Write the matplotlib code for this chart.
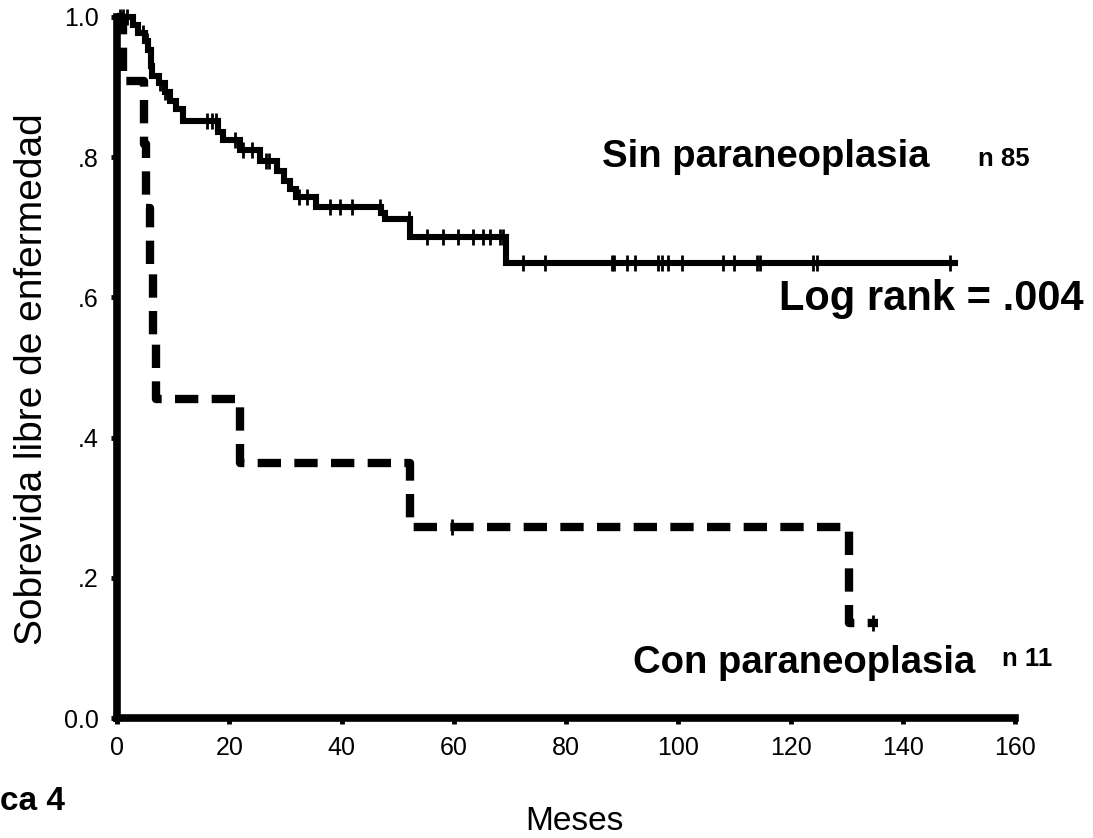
import matplotlib

matplotlib.use("Agg")

import matplotlib.pyplot as plt
import numpy as np

# Sin paraneoplasia (n 85): step times and survival after each step
sin_t = [0, 2.9, 3.7, 5.0, 5.5, 6.0, 6.3, 7.5, 8.5, 9.5, 10.5, 11.8, 18.0, 18.9,
         22.0, 25.5, 28.5, 29.8, 30.8, 31.8, 35.5, 47.0, 47.8, 52.2, 69.2]
sin_s = [1.0, 0.988, 0.977, 0.965, 0.953, 0.93, 0.915, 0.905, 0.893, 0.880, 0.868,
         0.852, 0.836, 0.825, 0.81, 0.795, 0.78, 0.766, 0.755, 0.743, 0.729, 0.72,
         0.712, 0.686, 0.649]
sin_end = 149.2
sin_cens = [0.5, 1.1, 1.8, 4.6, 5.3, 7.7, 8.6, 16.0, 17.0, 17.6, 21.0, 22.5, 24.0,
            26.5, 27.0, 32.5, 33.8, 38.0, 39.7, 41.9, 46.8, 52.0, 55.3, 58.1, 60.8,
            63.4, 65.1, 66.5, 68.3, 68.8, 72.4, 76.3, 88.2, 88.5, 90.9, 92.3, 96.3,
            97.1, 98.2, 100.7, 108.0, 109.8, 114.0, 114.6, 123.9, 124.6, 148.3]

# Con paraneoplasia (n 11)
con_t = [0, 1.0, 4.8, 5.2, 5.8, 6.4, 7.0, 21.9, 52.2, 130.3]
con_s = [1.0, 0.909, 0.818, 0.727, 0.636, 0.545, 0.455, 0.364, 0.273, 0.136]
con_end = 135.5
con_cens = [59.7, 134.6]

x_ticks = [0, 20, 40, 60, 80, 100, 120, 140, 160]
y_ticks = [0.0, 0.2, 0.4, 0.6, 0.8, 1.0]
y_labels = ["0.0", ".2", ".4", ".6", ".8", "1.0"]


def surv_at(times, surv, t):
    idx = np.searchsorted(times, t, side="right") - 1
    return np.asarray(surv)[idx]


plt.rcParams["font.family"] = ["Liberation Sans", "DejaVu Sans"]

fig = plt.figure(figsize=(10.93, 8.38), dpi=100)
ax = fig.add_axes([0.107, 0.143, 0.822, 0.837])

# solid curve
xs = sin_t + [sin_end]
ys = sin_s + [sin_s[-1]]
ax.step(xs, ys, where="post", color="black", lw=4.4, clip_on=False,
        solid_joinstyle="miter")
ax.plot(sin_cens, surv_at(sin_t, sin_s, sin_cens), ls="none", marker="|",
        ms=11, mew=2, color="black", clip_on=False)

# dashed curve
xc = con_t + [con_end]
yc = con_s + [con_s[-1]]
ax.step(xc, yc, where="post", color="black", lw=6, dashes=(2.8, 1.6),
        dash_capstyle="butt", clip_on=False)
ax.plot(con_cens, surv_at(con_t, con_s, con_cens), ls="none", marker="|",
        ms=11, mew=2, color="black", clip_on=False)

ax.set_xlim(0, 160)
ax.set_ylim(0, 1.0)
ax.set_xticks(x_ticks)
ax.set_xticklabels([str(v) for v in x_ticks], fontsize=18)
ax.set_yticks(y_ticks)
ax.set_yticklabels(y_labels, fontsize=18)
ax.tick_params(axis="both", length=4, width=3.5, direction="out", pad=9)
for side in ["top", "right"]:
    ax.spines[side].set_visible(False)
for side in ["left", "bottom"]:
    ax.spines[side].set_linewidth(5.5)

ax.text(115.5, 0.80, "Sin paraneoplasia", fontsize=27.5, fontweight="bold",
        ha="center", va="center")
ax.text(158, 0.797, "n 85", fontsize=18.5, fontweight="bold", ha="center", va="center")
ax.text(145, 0.598, "Log rank = .004", fontsize=30, fontweight="bold",
        ha="center", va="center")
ax.text(122.3, 0.078, "Con paraneoplasia", fontsize=27.5, fontweight="bold",
        ha="center", va="center")
ax.text(162, 0.084, "n 11", fontsize=18.5, fontweight="bold", ha="center",
        va="center", clip_on=False)

fig.text(0.029, 0.547, "Sobrevida libre de enfermedad", fontsize=28,
         rotation=90, ha="center", va="center")
fig.text(0.526, 0.02, "Meses", fontsize=24, ha="center", va="center")
fig.text(0.0, 0.044, "ca 4", fontsize=24, fontweight="bold", ha="left", va="center")

fig.savefig("out.png", dpi=100)
plt.close(fig)
